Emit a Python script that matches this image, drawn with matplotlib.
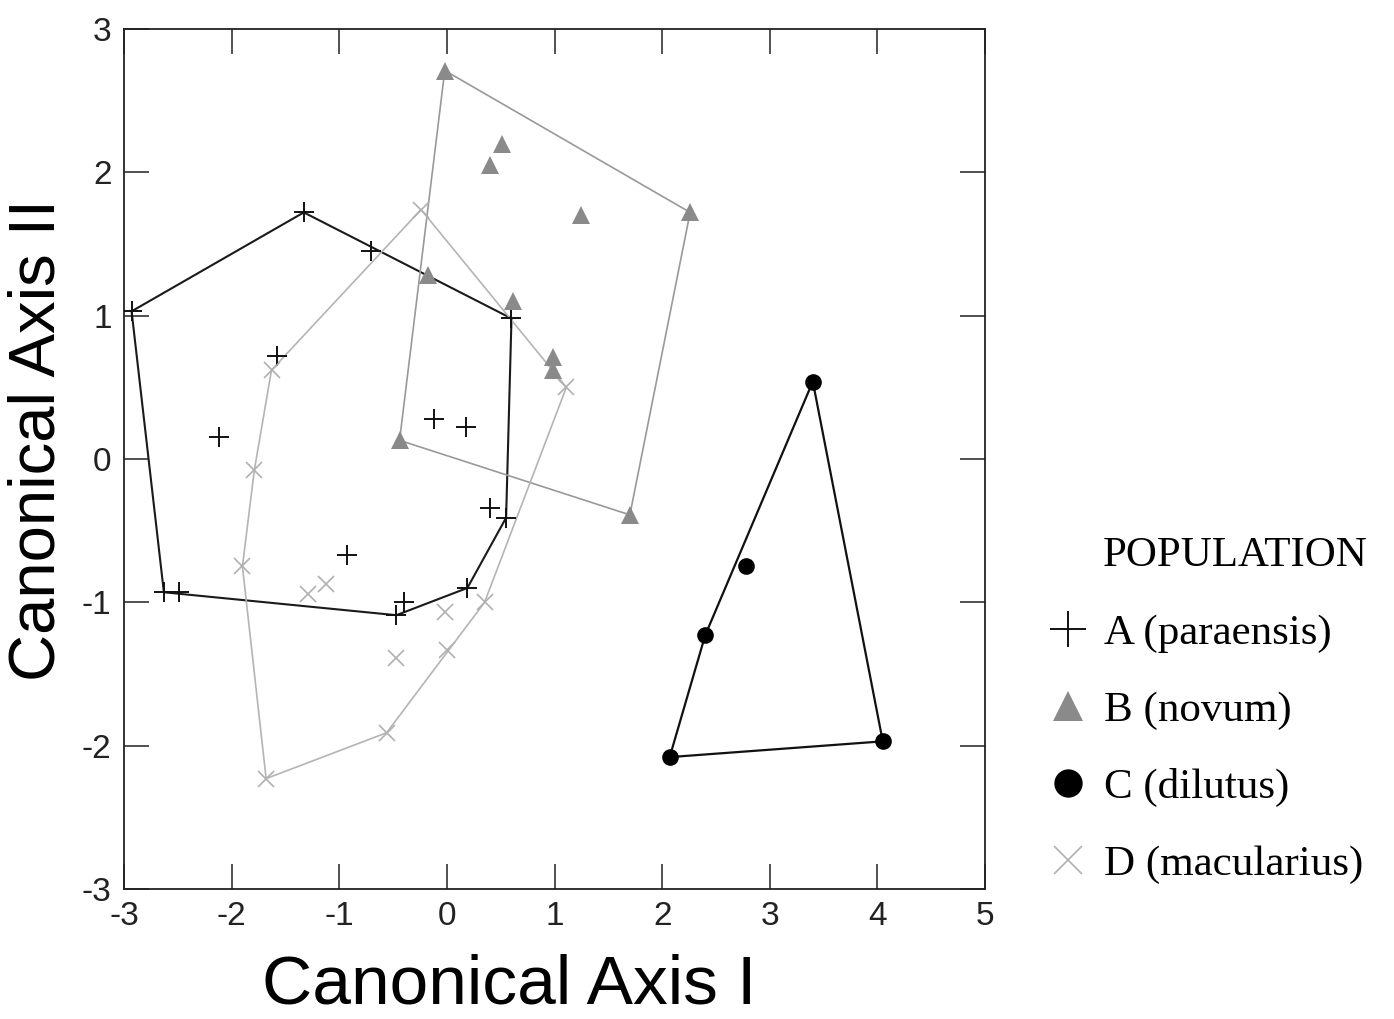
import numpy as np
import matplotlib
matplotlib.use("Agg")
import matplotlib.pyplot as plt

plt.rcParams["axes.unicode_minus"] = False

# ── data (canonical scores) ──────────────────────────────────────────────────

a_x = [-2.93, -1.33, -0.71, 0.60, -1.58, -2.12, -0.12, 0.18, 0.40, 0.55,
       -0.93, -2.63, -2.49, 0.19, -0.47, -0.40]
a_y = [1.03, 1.72, 1.45, 0.98, 0.72, 0.15, 0.28, 0.22, -0.34, -0.41,
       -0.67, -0.93, -0.93, -0.90, -1.09, -1.00]

b_x = [-0.02, 0.51, 0.40, 1.25, 2.26, -0.18, 0.61, 0.99, 0.99, -0.44, 1.70]
b_y = [2.71, 2.20, 2.05, 1.70, 1.72, 1.28, 1.10, 0.71, 0.62, 0.13, -0.39]

c_x = [3.40, 2.78, 2.40, 2.07, 4.05]
c_y = [0.54, -0.75, -1.23, -2.08, -1.97]

d_x = [-0.24, -1.63, -1.79, -1.90, -1.29, -1.12, -0.02, 0.35, -0.47, 0.00,
       -0.56, -1.68, 1.11]
d_y = [1.74, 0.62, -0.08, -0.75, -0.94, -0.87, -1.07, -1.00, -1.39, -1.33,
       -1.91, -2.23, 0.50]

labels = ["A (paraensis)", "B (novum)", "C (dilutus)", "D (macularius)"]
x_ticks = [-3, -2, -1, 0, 1, 2, 3, 4, 5]
y_ticks = [-3, -2, -1, 0, 1, 2, 3]


def hull(xs, ys):
    # monotone chain convex hull, returns closed polygon
    pts = sorted(zip(xs, ys))

    def cross(o, a, b):
        return (a[0] - o[0]) * (b[1] - o[1]) - (a[1] - o[1]) * (b[0] - o[0])

    lower, upper = [], []
    for p in pts:
        while len(lower) >= 2 and cross(lower[-2], lower[-1], p) <= 0:
            lower.pop()
        lower.append(p)
    for p in reversed(pts):
        while len(upper) >= 2 and cross(upper[-2], upper[-1], p) <= 0:
            upper.pop()
        upper.append(p)
    poly = lower[:-1] + upper[:-1]
    poly.append(poly[0])
    return [p[0] for p in poly], [p[1] for p in poly]


groups = [
    (a_x, a_y, dict(marker="+", color="#111111", ms=15, mew=1.4), "#1a1a1a", 1.5),
    (b_x, b_y, dict(marker="^", color="#8a8a8a", ms=13, mew=0), "#999999", 1.2),
    (c_x, c_y, dict(marker="o", color="#000000", ms=12, mew=0), "#111111", 1.6),
    (d_x, d_y, dict(marker="x", color="#b0b0b0", ms=12, mew=1.2), "#b4b4b4", 1.2),
]

fig = plt.figure(figsize=(13.94, 10.19), dpi=100)
ax = fig.add_axes([0.089, 0.1276, 0.6176, 0.844])

handles = []
for (xs, ys, mk, lc, lw), lab in zip(groups, labels):
    hx, hy = hull(xs, ys)
    ax.plot(hx, hy, color=lc, linewidth=lw, zorder=2)
    h, = ax.plot(xs, ys, linestyle="none", label=lab, zorder=3, **mk)
    handles.append(h)

ax.set_xlim(-3, 5)
ax.set_ylim(-3, 3)
ax.set_xticks(x_ticks)
ax.set_yticks(y_ticks)
ax.tick_params(direction="in", length=18, width=1.1, top=True, right=True,
               labelsize=24, pad=9, colors="#222222")
for lab in ax.get_xticklabels() + ax.get_yticklabels():
    lab.set_family("Liberation Sans")
for s in ax.spines.values():
    s.set_linewidth(1.3)
    s.set_color("#222222")

ax.text(0.447, -0.112, "Canonical Axis I", transform=ax.transAxes,
        ha="center", va="center", fontsize=50, family="Liberation Sans")
ax.text(-0.101, 0.522, "Canonical Axis II", transform=ax.transAxes,
        ha="center", va="center", rotation=90, fontsize=47, family="Liberation Sans")

fig.text(0.7913, 0.4545, "POPULATION", ha="left", va="center",
         fontsize=31, family="Liberation Serif")
leg = fig.legend(handles=handles, loc="upper left",
                 bbox_to_anchor=(0.754, 0.398), bbox_transform=fig.transFigure,
                 frameon=False, prop={"family": "Liberation Serif", "size": 31},
                 markerscale=1.7, handlelength=0.8, handletextpad=0.42,
                 labelspacing=0.88, borderpad=0, borderaxespad=0)

fig.savefig("out.png", dpi=100)
